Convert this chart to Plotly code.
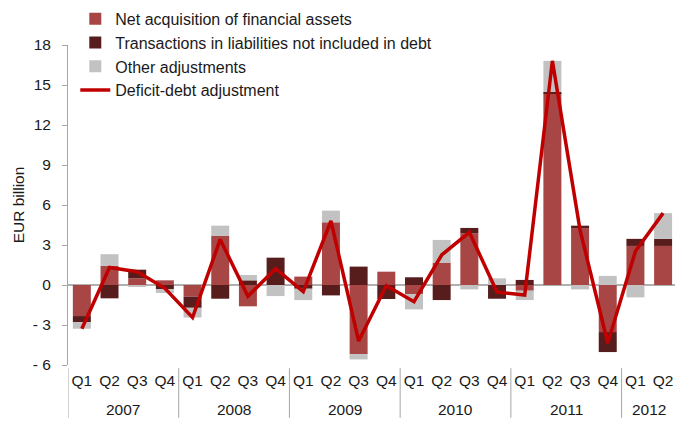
import plotly.graph_objects as go

# Quarterly deficit-debt adjustment components (EUR billion)
year_labels = ["2007", "2008", "2009", "2010", "2011", "2012"]
quarters_per_year = [4, 4, 4, 4, 4, 2]
quarters = ["Q1", "Q2", "Q3", "Q4"] * 5 + ["Q1", "Q2"]

net_acquisition = [-2.33, 1.43, 0.50, 0.35,
                   -0.88, 3.70, -1.60, 0.00,
                   0.63, 4.70, -5.18, 1.00,
                   -0.68, 1.68, 3.88, 0.00,
                   -0.43, 14.38, 4.25, -3.53,
                   2.93, 2.93]
liabilities_not_debt = [-0.45, -1.00, 0.65, -0.30,
                        -0.83, -1.03, 0.35, 2.05,
                        -0.28, -0.78, 1.38, -1.05,
                        0.58, -1.13, 0.40, -1.03,
                        0.38, 0.10, 0.20, -1.50,
                        0.53, 0.53]
other_adjustments = [-0.50, 0.88, -0.15, -0.30,
                     -0.73, 0.75, 0.40, -0.83,
                     -0.85, 0.88, -0.40, 0.00,
                     -1.15, 1.70, -0.33, 0.50,
                     -0.70, 2.33, -0.33, 0.68,
                     -0.93, 1.93]
deficit_debt = [-3.28, 1.31, 1.00, -0.25,
                -2.44, 3.42, -0.85, 1.22,
                -0.50, 4.80, -4.20, -0.05,
                -1.25, 2.25, 3.95, -0.53,
                -0.75, 16.81, 4.12, -4.35,
                2.53, 5.39]

y_ticks = [-6, -3, 0, 3, 6, 9, 12, 15, 18]
y_tick_text = ["- 6", "- 3", "0", "3", "6", "9", "12", "15", "18"]

# Quarter positions along the category axis
x = list(range(len(quarters)))
font = "Liberation Sans, Arial, sans-serif"
tick_size = 15.5

fig = go.Figure()
fig.add_trace(go.Bar(x=x, y=net_acquisition, name="Net acquisition of financial assets",
                     marker=dict(color="#A84646", line=dict(width=0))))
fig.add_trace(go.Bar(x=x, y=liabilities_not_debt,
                     name="Transactions in liabilities not included in debt",
                     marker=dict(color="#571D1D", line=dict(width=0))))
fig.add_trace(go.Bar(x=x, y=other_adjustments, name="Other adjustments",
                     marker=dict(color="#C2C2C2", line=dict(width=0))))
fig.add_trace(go.Scatter(x=x, y=deficit_debt, name="Deficit-debt adjustment",
                         mode="lines", line=dict(color="#C00000", width=3.5)))

# Year group labels and dividers beneath the quarter labels
start = 0
for label, n in zip(year_labels, quarters_per_year):
    fig.add_shape(type="line", xref="x", yref="paper",
                  x0=start - 0.5, x1=start - 0.5, y0=-0.01, y1=-0.165,
                  line=dict(color="#A6A6A6", width=1))
    fig.add_annotation(x=start + (n - 1) / 2, y=-0.14, xref="x", yref="paper",
                       text=label, showarrow=False, yanchor="middle",
                       font=dict(size=tick_size, family=font, color="#1a1a1a"))
    start += n

fig.update_layout(
    width=675, height=421,
    margin=dict(l=68, r=0, t=45, b=56, autoexpand=False),
    barmode="relative", bargap=0.35,
    plot_bgcolor="white", paper_bgcolor="white",
    font=dict(family=font, size=tick_size, color="#1a1a1a"),
    showlegend=True,
    legend=dict(x=0.012, y=1.135, xanchor="left", yanchor="top",
                bgcolor="rgba(0,0,0,0)", font=dict(size=16),
                tracegroupgap=0, itemwidth=30),
)
fig.update_xaxes(
    range=[-0.5, 21.43],
    tickvals=x, ticktext=quarters, tickangle=0,
    showgrid=False, ticks="", showline=False, zeroline=False,
    ticklabelstandoff=4, tickfont=dict(size=tick_size), automargin=False,
)
fig.update_yaxes(
    range=[-6, 18], tickvals=y_ticks, ticktext=y_tick_text,
    showgrid=False, showline=True, linecolor="#A6A6A6", linewidth=1,
    ticks="outside", ticklen=5, tickcolor="#A6A6A6", ticklabelstandoff=8,
    zeroline=True, zerolinecolor="#B0B0B0", zerolinewidth=2, automargin=False,
    title=dict(text="EUR billion", font=dict(size=tick_size), standoff=4),
)

fig.write_html("out.html")
